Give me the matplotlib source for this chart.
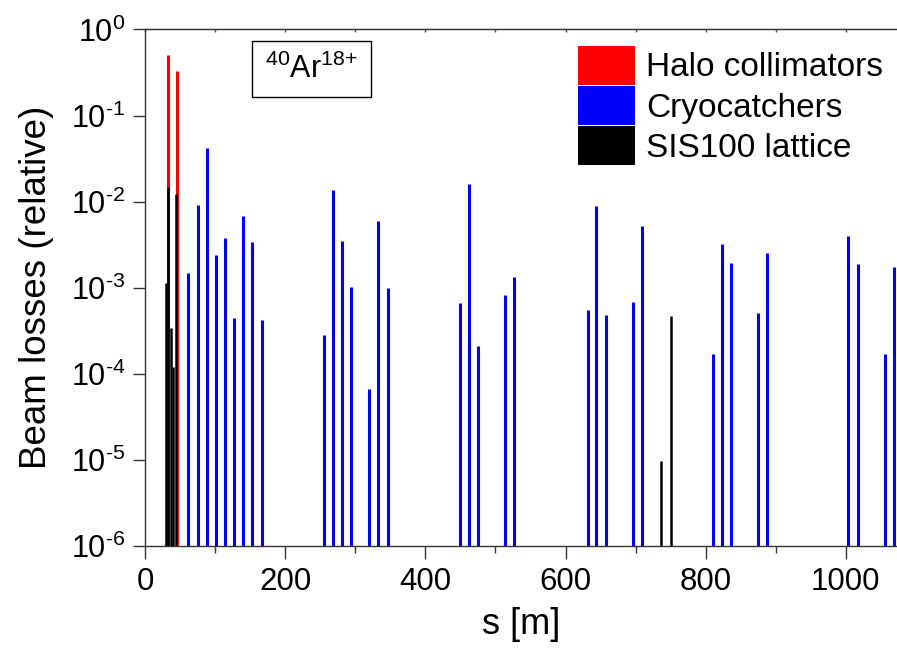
import matplotlib
matplotlib.use("Agg")
import matplotlib.pyplot as plt
from matplotlib.patches import Patch
from matplotlib.ticker import MultipleLocator, LogLocator, NullLocator, FuncFormatter
import numpy as np

plt.rcParams['font.family'] = ['Liberation Sans', 'DejaVu Sans']
plt.rcParams['mathtext.fontset'] = 'custom'
plt.rcParams['mathtext.rm'] = 'Liberation Sans'
plt.rcParams['mathtext.default'] = 'regular'
plt.rcParams['axes.unicode_minus'] = False

# losses at halo collimators
halo_s = [33.3, 45.6]
halo_loss = [0.50, 0.33]

# losses at cryocatchers
cryo_s = [62, 75.6, 88.9, 101.3, 114.1, 126.5, 140.2, 153.1, 166.9,
          255.8, 268.6, 281.5, 294.3, 320.0, 332.8, 346.2,
          449.8, 462.6, 475.5, 514.0, 526.8,
          631.4, 644.2, 657.6, 696.7, 709.6,
          810.7, 823.5, 836.4, 874.9, 887.7,
          1002.8, 1017.1, 1055.6, 1068.5]
cryo_loss = [1.5e-3, 9.1e-3, 4.2e-2, 2.4e-3, 3.8e-3, 4.4e-4, 6.9e-3, 3.4e-3, 4.2e-4,
             2.8e-4, 1.37e-2, 3.5e-3, 1.02e-3, 6.7e-5, 6.0e-3, 1.0e-3,
             6.6e-4, 1.6e-2, 2.1e-4, 8.3e-4, 1.35e-3,
             5.5e-4, 8.9e-3, 4.8e-4, 6.8e-4, 5.2e-3,
             1.7e-4, 3.2e-3, 1.93e-3, 5.1e-4, 2.5e-3,
             4.0e-3, 1.9e-3, 1.7e-4, 1.75e-3]

# losses in the SIS100 lattice
lattice_s = [30.0, 32.2, 36.7, 39.5, 44.5, 736, 750]
lattice_loss = [1.14e-3, 1.47e-2, 3.4e-4, 1.2e-4, 1.24e-2, 9.8e-6, 4.7e-4]

ymin = 1e-6


def log_label(v, pos):
    e = int(round(np.log10(v)))
    if e < 0:
        return r'$10^{\text{-%d}}$' % (-e)
    return r'$10^{%d}$' % e


fig = plt.figure(figsize=(8.97, 6.48), dpi=100)
ax = fig.add_axes([0.1617, 0.1574, 0.8383, 0.7971])

ax.vlines(cryo_s, ymin, cryo_loss, color='#0000ff', lw=2.2)
ax.vlines(halo_s, ymin, halo_loss, color='#ff0000', lw=2.2)
ax.vlines(lattice_s, ymin, lattice_loss, color='black', lw=1.8)

ax.set_yscale('log')
ax.set_ylim(1e-6, 1)
ax.set_xlim(0, 1073)

ax.xaxis.set_major_locator(MultipleLocator(200))
ax.xaxis.set_minor_locator(MultipleLocator(100))
ax.yaxis.set_major_locator(LogLocator(base=10, numticks=10))
ax.yaxis.set_minor_locator(NullLocator())
ax.yaxis.set_major_formatter(FuncFormatter(log_label))

ax.tick_params(axis='both', which='major', direction='out', width=1, color='#333333')
ax.tick_params(axis='x', which='major', length=9, pad=6, labelsize=22.5)
ax.tick_params(axis='x', which='minor', length=5, width=1, color='#333333')
ax.tick_params(axis='y', which='major', length=9, pad=5, labelsize=22)

# small inward ticks along the top edge
top = ax.secondary_xaxis('top')
top.xaxis.set_major_locator(MultipleLocator(100))
top.tick_params(direction='in', length=2, width=1, color='#555555', labeltop=False)
top.spines['top'].set_color('#555555')

for side in ['left', 'bottom', 'top']:
    ax.spines[side].set_color('#333333')
    ax.spines[side].set_linewidth(1)
ax.spines['right'].set_visible(False)

ax.set_xlabel('s [m]', fontsize=26, labelpad=7)
ax.set_ylabel('Beam losses (relative)', fontsize=26.5, labelpad=12)

ax.text(0.3475, 0.8935, r'$^{40}$Ar$^{\text{18+}}$', transform=fig.transFigure,
        ha='center', va='center', fontsize=22,
        bbox=dict(boxstyle='square,pad=0.42', fc='white', ec='black', lw=1))

handles = [Patch(facecolor='#ff0000', label='Halo collimators'),
           Patch(facecolor='#0000ff', label='Cryocatchers'),
           Patch(facecolor='black', label='SIS100 lattice')]
ax.legend(handles=handles, loc='upper left', bbox_to_anchor=(0.644, 0.929),
          bbox_transform=fig.transFigure, frameon=False, fontsize=24,
          handlelength=1.72, handleheight=1.4, handletextpad=0.33,
          labelspacing=0.05, borderpad=0, borderaxespad=0)

fig.savefig('out.png', dpi=100)
